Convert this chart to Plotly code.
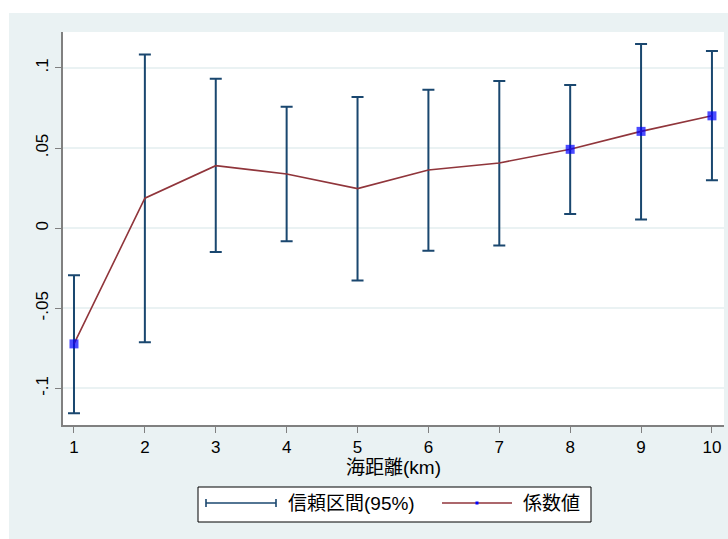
import plotly.graph_objects as go

# ---- data ----
distance_km = [1, 2, 3, 4, 5, 6, 7, 8, 9, 10]
coef = [-0.0722, 0.0187, 0.0390, 0.0338, 0.0247, 0.0363, 0.0407, 0.0492, 0.0604, 0.0701]
ci_upper = [-0.0294, 0.1083, 0.0933, 0.0757, 0.0818, 0.0863, 0.0919, 0.0894, 0.1149, 0.1106]
ci_lower = [-0.1155, -0.0711, -0.0149, -0.0081, -0.0327, -0.0141, -0.0108, 0.0089, 0.0054, 0.0299]

x_tickvals = [1, 2, 3, 4, 5, 6, 7, 8, 9, 10]
y_tickvals = [-0.1, -0.05, 0, 0.05, 0.1]
y_ticktext = ["-.1", "-.05", "0", ".05", ".1"]
x_title = "海距離(km)"
legend_labels = ["信頼区間(95%)", "係数値"]

# ---- styles ----
FONT = "Liberation Sans, Arial, Noto Sans CJK JP, sans-serif"
NAVY = "#1a476f"
MAROON = "#90353b"
CRIMSON = "#dc143c"
BLUE = "#0000ff"
BG = "#eaf2f3"
AXIS = "#808080"

W, H = 728, 539
L, R, T, B = 63, 724, 32, 425   # plot area in pixels

significant = [lo > 0 or up < 0 for lo, up in zip(ci_lower, ci_upper)]

fig = go.Figure()

# confidence intervals
fig.add_trace(go.Scatter(
    x=distance_km, y=coef, mode="markers",
    marker=dict(size=1, opacity=0),
    error_y=dict(type="data", symmetric=False,
                 array=[u - c for u, c in zip(ci_upper, coef)],
                 arrayminus=[c - l for c, l in zip(coef, ci_lower)],
                 color=NAVY, thickness=2, width=6),
    showlegend=False, hoverinfo="skip",
))

# coefficient line with markers at significant points
fig.add_trace(go.Scatter(
    x=distance_km, y=coef, mode="lines+markers",
    line=dict(color=MAROON, width=1.6),
    marker=dict(symbol="square", color=BLUE,
                size=[9 if s else 0 for s in significant],
                line=dict(width=0)),
    showlegend=False,
))

def px(x):   # page pixel -> paper
    return (x - L) / (R - L)

def py(y):
    return (B - y) / (B - T)

shapes = [
    # white strips outside the graph region
    dict(type="rect", xref="paper", yref="paper", x0=px(0), x1=px(W), y0=py(13), y1=py(0),
         fillcolor="white", line=dict(width=0), layer="above"),
    dict(type="rect", xref="paper", yref="paper", x0=px(0), x1=px(9), y0=py(H), y1=py(0),
         fillcolor="white", line=dict(width=0), layer="above"),
    # zero reference line
    dict(type="line", xref="paper", yref="y", x0=0, x1=1, y0=0, y1=0,
         line=dict(color=CRIMSON, width=1.6), layer="between"),
    # legend box
    dict(type="rect", xref="paper", yref="paper", x0=px(198), x1=px(591), y0=py(522), y1=py(487),
         fillcolor="white", line=dict(color="black", width=1)),
    # legend CI symbol
    dict(type="line", xref="paper", yref="paper", x0=px(206), x1=px(276), y0=py(503), y1=py(503),
         line=dict(color=NAVY, width=1.6)),
    dict(type="line", xref="paper", yref="paper", x0=px(206), x1=px(206), y0=py(499), y1=py(507),
         line=dict(color=NAVY, width=1.6)),
    dict(type="line", xref="paper", yref="paper", x0=px(276), x1=px(276), y0=py(499), y1=py(507),
         line=dict(color=NAVY, width=1.6)),
    # legend coef symbol
    dict(type="line", xref="paper", yref="paper", x0=px(442), x1=px(512), y0=py(503), y1=py(503),
         line=dict(color=MAROON, width=1.6)),
    dict(type="rect", xref="paper", yref="paper", x0=px(475.5), x1=px(478.5), y0=py(504.5), y1=py(501.5),
         fillcolor=BLUE, line=dict(width=0)),
]

annotations = [
    dict(text=legend_labels[0], xref="paper", yref="paper", x=px(286), y=py(503),
         xanchor="left", yanchor="middle", showarrow=False,
         font=dict(family=FONT, size=19, color="black")),
    dict(text=legend_labels[1], xref="paper", yref="paper", x=px(521), y=py(503),
         xanchor="left", yanchor="middle", showarrow=False,
         font=dict(family=FONT, size=19, color="black")),
]

fig.update_layout(
    width=W, height=H,
    margin=dict(l=L, r=W - R, t=T, b=H - B, pad=0),
    paper_bgcolor=BG, plot_bgcolor="white",
    font=dict(family=FONT, size=17, color="black"),
    shapes=shapes, annotations=annotations,
    showlegend=False,
    xaxis=dict(
        range=[0.845, 10.17], tickvals=x_tickvals,
        showgrid=False, zeroline=False,
        showline=True, linecolor=AXIS, linewidth=2,
        ticks="outside", ticklen=6, tickcolor=AXIS, tickwidth=1,
        tickfont=dict(size=17),
        title=dict(text=x_title, font=dict(size=19), standoff=0),
    ),
    yaxis=dict(
        range=[-0.1228, 0.1224], tickvals=y_tickvals, ticktext=y_ticktext,
        tickangle=-90,
        showgrid=True, gridcolor=BG, gridwidth=1.5, zeroline=False,
        showline=True, linecolor=AXIS, linewidth=2,
        ticks="outside", ticklen=6, tickcolor=AXIS, tickwidth=1,
        tickfont=dict(size=17),
    ),
)

fig.write_html(
    "out.html",
    config={"displayModeBar": False},
    post_script="document.body.style.margin='0';document.body.style.overflow='hidden';",
)
